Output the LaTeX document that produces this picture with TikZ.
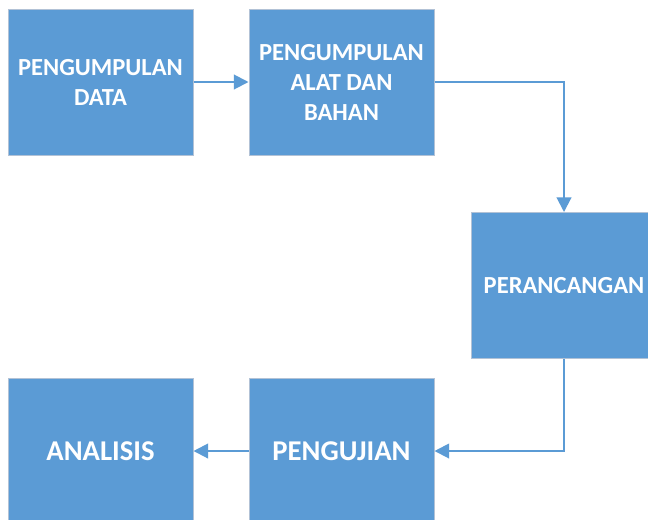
\documentclass[tikz,border=0pt]{standalone}
\usepackage{fontspec}
\setmainfont{Carlito}
\usepackage{tikz}
\usetikzlibrary{arrows.meta, positioning}
\definecolor{boxblue}{RGB}{91,155,213}
\definecolor{boxedge}{RGB}{178,194,214}
\tikzset{
  stepbox/.style={rectangle, draw=boxedge, fill=boxblue, text=white,
    minimum width=138.75pt, minimum height=109.5pt, align=center,
    line width=0.75pt, font=\fontsize{18.4}{22.5}\selectfont\bfseries},
  bigbox/.style={stepbox, font=\fontsize{21.5}{26}\selectfont\bfseries},
  arrow/.style={-{Triangle[length=11pt, width=11pt]}, line width=1.5pt, color=boxblue}
}

\begin{document}
\begin{tikzpicture}[x=0.75pt, y=-0.75pt]
  \clip (0, 0) rectangle (648, 519);
  \fill[white] (0, 0) rectangle (648, 519);

  % top row
  \node[stepbox] (data) at (100.5, 82) {PENGUMPULAN\\DATA};
  \node[stepbox] (alat) at (341.5, 82) {PENGUMPULAN\\ALAT DAN\\BAHAN};

  % right side
  \node[stepbox] (rancang) at (564, 285.5) {PERANCANGAN};

  % bottom row
  \node[bigbox] (uji) at (341.5, 451) {PENGUJIAN};
  \node[bigbox] (analisis) at (100.5, 451) {ANALISIS};

  % Connections
  \draw[arrow] (data) -- (alat);
  \draw[arrow] (alat.east) -| (rancang.north);
  \draw[arrow] (rancang.south) |- (uji.east);
  \draw[arrow] (uji) -- (analisis);
\end{tikzpicture}
\end{document}
